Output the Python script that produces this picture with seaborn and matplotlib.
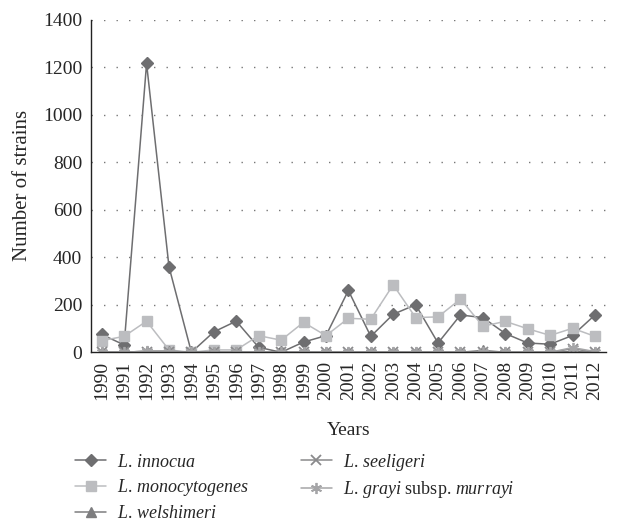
import pandas as pd
import matplotlib
matplotlib.use("Agg")
import matplotlib.pyplot as plt
import seaborn as sns

years = list(range(1990, 2013))

innocua = [75, 31, 1215, 360, 0, 86, 131, 21, 0, 43, 70, 260, 67, 160,
           200, 39, 157, 146, 79, 39, 34, 71, 157]
monocytogenes = [49, 67, 131, 10, 0, 10, 10, 70, 51, 126, 70, 143, 139, 284,
                 146, 149, 224, 110, 130, 99, 71, 101, 67]
welshimeri = [0, 0, 5, 5, 0, 0, 0, 0, 0, 0, 0, 0, 0, 0,
              0, 0, 0, 8, 0, 0, 0, 3, 0]
seeligeri = [0, 0, 0, 0, 0, 0, 0, 0, 0, 0, 0, 0, 0, 0,
             0, 0, 0, 0, 0, 0, 0, 15, 0]
grayi = [0, 0, 5, 3, 0, 0, 0, 0, 0, 0, 0, 0, 0, 0,
         0, 0, 0, 0, 0, 0, 0, 20, 3]

species = ["innocua", "monocytogenes", "welshimeri", "seeligeri", "grayi"]
labels = {
    "innocua": r"$\mathit{L.\,innocua}$",
    "monocytogenes": r"$\mathit{L.\,monocytogenes}$",
    "welshimeri": r"$\mathit{L.\,welshimeri}$",
    "seeligeri": r"$\mathit{L.\,seeligeri}$",
    "grayi": r"$\mathit{L.\,grayi}$ subsp. $\mathit{murrayi}$",
}
colors = {"innocua": "#6e6e70", "monocytogenes": "#bcbdc0", "welshimeri": "#7d7d7f",
          "seeligeri": "#8a8a8c", "grayi": "#a5a5a7"}
markers = {"innocua": "D", "monocytogenes": "s", "welshimeri": "^",
           "seeligeri": "x", "grayi": (6, 2, 0)}
msizes = {"innocua": 6, "monocytogenes": 7.5, "welshimeri": 7, "seeligeri": 7, "grayi": 8}

df = pd.DataFrame({"Year": years, "innocua": innocua, "monocytogenes": monocytogenes,
                   "welshimeri": welshimeri, "seeligeri": seeligeri, "grayi": grayi})
long_df = df.melt(id_vars="Year", var_name="Species", value_name="Strains")

sns.set_style("white")
plt.rcParams["font.family"] = ["Liberation Serif", "DejaVu Serif"]
plt.rcParams["mathtext.fontset"] = "custom"
plt.rcParams["mathtext.it"] = "Liberation Serif:italic"
plt.rcParams["mathtext.rm"] = "Liberation Serif"

fig = plt.figure(figsize=(6.17, 5.22), dpi=100)
ax = fig.add_axes([0.1467, 0.3251, 0.8358, 0.6375])

for sp in species:
    sub = long_df[long_df["Species"] == sp]
    mk = markers[sp]
    filled = mk not in ("x",) and not isinstance(mk, tuple)
    sns.lineplot(data=sub, x="Year", y="Strains", ax=ax, color=colors[sp],
                 marker=mk, markersize=msizes[sp], linewidth=1.1,
                 markeredgecolor=colors[sp], markeredgewidth=1.0 if filled else 1.3,
                 label=labels[sp], legend=False)

ax.set_xlim(1989.5, 2012.5)
ax.set_ylim(0, 1400)
ax.set_xticks(years)
ax.set_xticklabels([str(y) for y in years], rotation=90)
ax.set_yticks(range(0, 1401, 200))
ax.tick_params(axis="both", length=0, labelsize=14)
ax.tick_params(axis="y", pad=6)
ax.tick_params(axis="x", pad=6)

for yv in range(200, 1401, 200):
    ax.axhline(yv, color="#777777", linewidth=1.0, linestyle=(0, (1, 8)), zorder=0)

for s in ["top", "right"]:
    ax.spines[s].set_visible(False)
for s in ["left", "bottom"]:
    ax.spines[s].set_color("#222222")
    ax.spines[s].set_linewidth(1.0)

ax.set_xlabel("Years", fontsize=14, labelpad=16)
ax.set_ylabel("Number of strains", fontsize=15, labelpad=8)

handles, lbls = ax.get_legend_handles_labels()
fig.legend(handles, lbls, loc="upper left", bbox_to_anchor=(0.122, 0.135), ncol=2,
           frameon=False, fontsize=13, handlelength=1.7, handletextpad=0.6,
           columnspacing=2.9, labelspacing=0.38, borderpad=0, borderaxespad=0)

fig.savefig("out.png", dpi=100)
